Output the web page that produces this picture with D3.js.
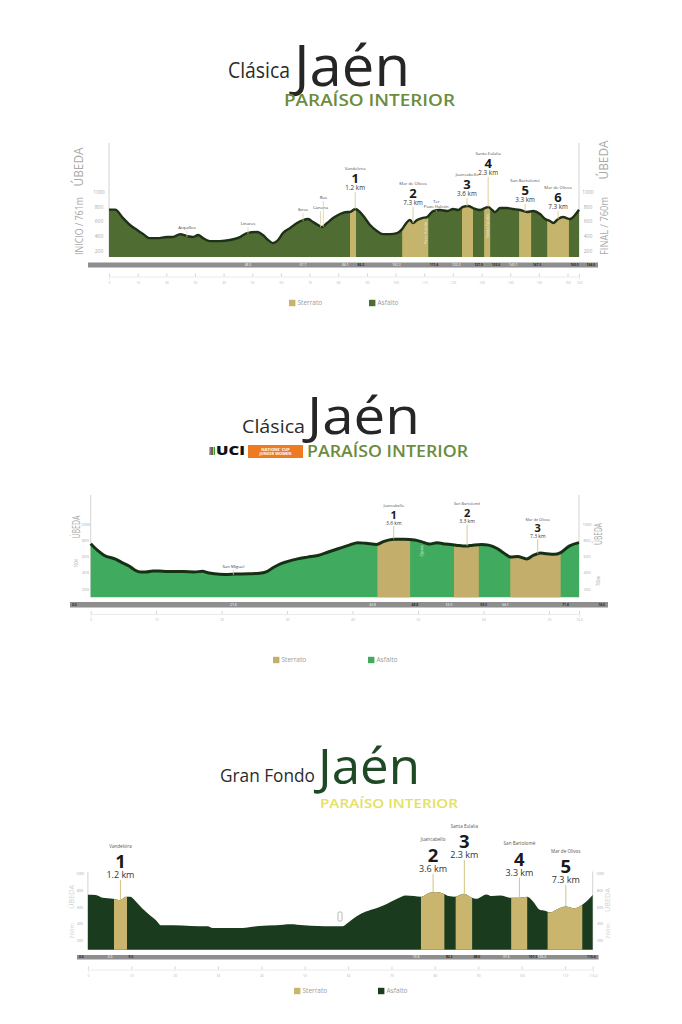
<!DOCTYPE html>
<html>
<head>
<meta charset="utf-8">
<script src="https://cdn.jsdelivr.net/npm/d3@7"></script>
<style>
  body { margin: 0; background: #fff; }
  svg { display: block; }
  text { font-family: "Open Sans", sans-serif; }
</style>
</head>
<body>
<script>
// ---- Clásica Jaén (élite) : [km, altitud m]
const profileClasica = [[0,761],[2.1,761],[4.9,647],[7.3,553],[9.8,485],[11.9,430],[14,376],[16.8,376],[20.2,390],[22.3,390],[24.8,430],[27.2,403],[29.3,390],[31.1,417],[32.8,376],[35.2,335],[38.7,335],[42.2,350],[45.7,390],[48.2,444],[51.7,458],[53.7,417],[55.5,350],[57.2,308],[59,350],[60.7,444],[63.2,512],[65.6,580],[67.7,620],[69.5,634],[71.2,593],[72.9,553],[74.3,525],[76.1,580],[78.2,647],[80.6,702],[83.1,729],[84.1,729],[85.9,770],[87.6,729],[89.3,647],[91.1,553],[93.5,471],[95.6,430],[98.1,430],[100.5,444],[102.3,498],[104,593],[105,620],[106.1,580],[107.5,620],[109.2,647],[111,661],[112,702],[113.1,742],[115.5,756],[118,742],[120.1,770],[121.8,756],[123.5,797],[125.3,810],[127,783],[129.5,756],[131.2,783],[132.3,797],[133.7,756],[134.7,729],[136.5,783],[138.9,783],[141,770],[143.4,756],[145.9,729],[148,742],[150.4,702],[152.2,634],[153.9,607],[155,580],[156.7,634],[158.4,661],[160.9,634],[162.6,688],[164,760]];
const sectorsClasica = [
  {num: "1", from: 84.1, to: 86.2, at: 85.9, len: "1.2 km", name: "Vandelvira"},
  {num: "2", from: 102.3, to: 111.4, at: 106.1, len: "7.3 km", name: "Mar de Olivos"},
  {num: "3", from: 123.2, to: 127.0, at: 124.9, len: "3.6 km", name: "Juancabello"},
  {num: "4", from: 130.9, to: 133.0, at: 132.3, len: "2.3 km", name: "Santa Eulalia"},
  {num: "5", from: 143.1, to: 147.3, at: 145.2, len: "3.3 km", name: "San Bartolomé"},
  {num: "6", from: 152.9, to: 160.5, at: 156.7, len: "7.3 km", name: "Mar de Olivos"}
];
const placesClasica = [
  {name: "Arquillos", km: 27.2}, {name: "Linares", km: 48.5}, {name: "Ibros", km: 67.7},
  {name: "Canena", km: 73.8}, {name: "Rus", km: 74.8}, {name: "Ter\nPozo Halcón", km: 114.2}
];
const ticksClasica = [0,10,20,30,40,50,60,70,80,90,100,110,120,130,140,150,160,164];

// ---- Clásica Jaén UCI Nations' Cup Junior Women
const profileJunior = [[0,762],[1.05,680],[2.1,617],[3.7,574],[4.7,532],[5.8,489],[6.8,434],[7.6,413],[8.4,413],[9.5,426],[11,421],[12.6,417],[14.2,417],[15.8,413],[17.1,421],[17.9,404],[18.9,391],[20.5,383],[22.1,387],[24.2,391],[25.8,396],[26.8,413],[27.9,468],[28.9,510],[30,540],[31.6,574],[33.1,596],[34.7,617],[36.3,659],[37.9,702],[39.5,744],[40.8,774],[42.1,766],[43.7,753],[44.7,787],[46.3,817],[47.9,817],[49.5,808],[50.5,787],[51.8,757],[52.9,774],[54.2,757],[55.8,744],[57.3,732],[58.4,744],[59.7,753],[60.8,744],[62.1,702],[63.1,647],[64.2,596],[65.2,604],[66.6,574],[67.6,617],[68.7,647],[69.7,638],[70.8,630],[71.8,651],[73.1,732],[74.6,775]];
const sectorsJunior = [
  {num: "1", from: 43.8, to: 48.8, at: 46.3, len: "3.6 km", name: "Juancabello"},
  {num: "2", from: 55.5, to: 59.3, at: 57.5, len: "3.3 km", name: "San Bartolomé"},
  {num: "3", from: 64.1, to: 71.8, at: 68.3, len: "7.3 km", name: "Mar de Olivos"}
];
const placesJunior = [{name: "San Miguel", km: 21.8}];
const ticksJunior = [0,10,20,30,40,50,60,70,74.6];

// ---- Gran Fondo Jaén
const profileFondo = [[0,748],[1.8,744],[3.4,712],[5.8,700],[7.4,683],[8.8,724],[9.8,724],[11,671],[12.5,590],[14.5,497],[15.7,448],[16.9,388],[19.7,388],[23.7,380],[27.6,376],[28.8,355],[31.6,355],[35.6,355],[39.5,380],[43.5,388],[46.7,400],[49.8,388],[53,380],[56.2,376],[58.6,376],[60.2,428],[61.8,489],[64.1,550],[66.5,590],[68.9,639],[71.3,700],[73.3,740],[75.2,732],[76.8,724],[78.8,773],[80.4,781],[82,760],[83.2,732],[84.6,724],[86.7,760],[88.6,712],[89.5,700],[91.9,752],[93.1,732],[95.1,740],[97.5,712],[99.4,712],[101.3,724],[102.6,671],[104.2,570],[105.4,558],[106.6,538],[108.2,578],[110.2,610],[112.1,590],[114,631],[116.4,745]];
const sectorsFondo = [
  {num: "1", from: 6.0, to: 9.0, at: 7.5, len: "1.2 km", name: "Vandelvira"},
  {num: "2", from: 76.8, to: 82.2, at: 79.6, len: "3.6 km", name: "Juancabello"},
  {num: "3", from: 84.8, to: 88.6, at: 86.8, len: "2.3 km", name: "Santa Eulalia"},
  {num: "4", from: 97.6, to: 101.3, at: 99.5, len: "3.3 km", name: "San Bartolomé"},
  {num: "5", from: 106.0, to: 114.0, at: 110.2, len: "7.3 km", name: "Mar de Olivos"}
];
const ticksFondo = [0,10,20,30,40,50,60,70,80,90,100,110,116.4];

const altTicks = [200, 400, 600, 800, 1000];
const legendLabels = ["Sterrato", "Asfalto"];

const svg = d3.select("body").append("svg").attr("width", 682).attr("height", 1024);
const fmt = d3.format(".1f");

function elevAt(profile, km) {
  const i = d3.bisector(d => d[0]).left(profile, km);
  if (i <= 0) return profile[0][1];
  if (i >= profile.length) return profile[profile.length - 1][1];
  const a = profile[i - 1], b = profile[i];
  return a[1] + (b[1] - a[1]) * (km - a[0]) / (b[0] - a[0]);
}

function drawProfile(c) {
  const g = svg.append("g");
  const total = c.profile[c.profile.length - 1][0];
  const x = d3.scaleLinear().domain([0, total]).range([c.x0, c.x1]);
  const y = d3.scaleLinear().domain([c.floor, 1000]).range([c.base, c.y1000]);

  const area = d3.area().x(d => x(d[0])).y0(c.base).y1(d => y(d[1])).curve(d3.curveMonotoneX);

  // side axis lines
  [c.x0, c.x1].forEach(xx => g.append("line")
    .attr("x1", xx).attr("x2", xx).attr("y1", c.axisTop).attr("y2", c.base)
    .attr("stroke", "#c8c8c8").attr("stroke-width", 0.8));

  g.append("path").datum(c.profile).attr("d", area).attr("fill", c.fill);

  // sterrato sectors
  c.sectors.forEach((s, i) => {
    const id = c.id + "-s" + i;
    g.append("clipPath").attr("id", id).append("rect")
      .attr("x", x(s.from)).attr("width", x(s.to) - x(s.from))
      .attr("y", 0).attr("height", 1024);
    g.append("path").datum(c.profile).attr("d", area)
      .attr("fill", c.dirt).attr("clip-path", `url(#${id})`);
  });

  if (c.stroke) {
    g.append("path").datum(c.profile).attr("d", area.lineY1())
      .attr("fill", "none").attr("stroke", c.stroke).attr("stroke-width", c.strokeW)
      .attr("stroke-linejoin", "round");
  }

  // altitude labels
  [c.yLabL, c.yLabR].forEach(xx => {
    g.selectAll(null).data(altTicks).join("text")
      .attr("x", xx).attr("y", d => y(d)).attr("dy", "0.35em")
      .attr("text-anchor", "middle").attr("font-size", c.altSize).attr("fill", "#aaa")
      .text(d => d);
  });

  // sector labels
  c.sectors.forEach((s, i) => {
    const lx = x(s.at), top = c.labelTop[i], o = c.offs;
    g.append("line").attr("x1", lx).attr("x2", lx)
      .attr("y1", top + o[2]).attr("y2", y(elevAt(c.profile, s.at)))
      .attr("stroke", c.stem).attr("stroke-width", c.stemW);
    g.append("text").attr("x", lx).attr("y", top).attr("text-anchor", "middle")
      .attr("font-size", c.nameSize).attr("fill", "#555").text(s.name);
    g.append("text").attr("x", lx).attr("y", top + o[0]).attr("text-anchor", "middle")
      .attr("font-size", c.numSize).attr("font-weight", 700).attr("fill", "#1a1a1a")
      .attr("font-family", "Roboto, sans-serif").text(s.num);
    g.append("text").attr("x", lx).attr("y", top + o[1]).attr("text-anchor", "middle")
      .attr("font-size", c.kmSize).attr("fill", "#333").text(s.len);
  });

  // small place labels
  (c.places || []).forEach((p, i) => {
    const px = x(p.km), ly = c.placeY[i];
    g.append("line").attr("x1", px).attr("x2", px).attr("y1", ly + 2)
      .attr("y2", y(elevAt(c.profile, p.km)) + 1)
      .attr("stroke", "#d7d0a0").attr("stroke-width", 0.7);
    const lines = p.name.split("\n");
    g.append("text").attr("x", px).attr("y", ly - (lines.length - 1) * 5)
      .attr("text-anchor", "middle").attr("font-size", 4.3).attr("fill", "#444")
      .selectAll("tspan").data(lines).join("tspan")
      .attr("x", px).attr("dy", (d, j) => j ? 5 : 0).text(d => d);
  });

  // rotated notes inside the profile
  (c.notes || []).forEach(n => {
    g.append("text").attr("transform", `translate(${x(n.km)},${n.y}) rotate(-90)`)
      .attr("text-anchor", "middle").attr("font-size", 4).attr("fill", "#e8f0d8")
      .text(n.text);
  });

  // grey distance strip
  g.append("rect").attr("x", c.bar[0]).attr("width", c.bar[1] - c.bar[0])
    .attr("y", c.bar[2]).attr("height", c.bar[3]).attr("fill", "#8e8e8e");
  const marks = [];
  if (c.barStart) marks.push({x: c.bar[0] + 2, t: "0.0", light: false, anchor: "start"});
  let lastEnd = -Infinity;
  c.sectors.forEach(s => {
    if (x(s.from) - lastEnd > 20) marks.push({x: x(s.from) - 1.5, t: fmt(s.from), light: true, anchor: "end"});
    if (c.bar[1] - x(s.to) > 22) marks.push({x: x(s.to) + 1.5, t: fmt(s.to), light: false, anchor: "start"});
    lastEnd = x(s.to);
  });
  (c.barPlaces || []).forEach(k => marks.push({x: x(c.places[k].km), t: fmt(c.places[k].km), light: true, anchor: "middle"}));
  marks.push({x: c.bar[1] - 3, t: fmt(total), light: false, anchor: "end"});
  g.selectAll(null).data(marks).join("text")
    .attr("x", d => d.x).attr("y", c.bar[2] + c.bar[3] / 2).attr("dy", "0.35em")
    .attr("text-anchor", d => d.anchor).attr("font-size", 3.3).attr("font-weight", 700)
    .attr("fill", d => d.light ? "#d8d8d8" : "#2a2a2a").text(d => d.t);

  // km axis
  const axis = g.append("g").attr("transform", `translate(0,${c.tickY})`)
    .call(d3.axisBottom(x).tickValues(c.ticks).tickSize(3).tickPadding(2)
      .tickFormat(d => Number.isInteger(d) ? d : fmt(d)));
  axis.select(".domain").attr("stroke", "#ddd").attr("stroke-width", 0.6);
  axis.selectAll(".tick line").attr("stroke", "#bbb").attr("stroke-width", 0.6)
    .attr("transform", "translate(0,-3)");
  axis.selectAll(".tick text").attr("font-size", 3.4).attr("fill", "#bbb")
    .attr("font-family", "Open Sans, sans-serif");

  // side captions
  c.side.forEach(sd => {
    g.append("text").attr("transform", `translate(${sd.x},${sd.y}) rotate(-90)`)
      .attr("text-anchor", "middle").attr("dy", "0.35em")
      .attr("font-size", sd.size).attr("fill", sd.color || "#a9a9a9")
      .attr("textLength", sd.len).attr("lengthAdjust", "spacingAndGlyphs")
      .text(sd.t);
  });

  // legend
  const colors = [c.dirt, c.fill];
  legendLabels.forEach((t, i) => {
    g.append("rect").attr("x", c.legendX[i]).attr("y", c.legendY - 3.2)
      .attr("width", 6.4).attr("height", 6.4).attr("fill", colors[i]);
    g.append("text").attr("x", c.legendX[i] + 8.5).attr("y", c.legendY).attr("dy", "0.35em")
      .attr("font-size", 6.5).attr("fill", "#9a9a9a").text(t);
  });
}

// title block: prefix, "Jaén", subtitle
function title(o) {
  const g = svg.append("g");
  const put = (t, a) => g.append("text").attr("x", a[0]).attr("y", a[1]).attr("font-size", a[2])
    .attr("textLength", a[3]).attr("lengthAdjust", "spacingAndGlyphs").text(t);
  put(o.preText, o.pre).attr("fill", "#2b2b2b");
  put("Jaén", o.jaen).attr("fill", o.jaenColor).attr("font-family", "Lato, sans-serif");
  put("PARAÍSO INTERIOR", o.sub).attr("fill", o.subColor).attr("font-weight", 600);
  return g;
}

// ---------- chart 1
title({preText: "Clásica", pre: [228, 78.3, 21, 62], jaen: [294, 85.5, 56, 116], jaenColor: "#262626",
  sub: [284, 106, 16.5, 171], subColor: "#6b8c3d"});
drawProfile({
  id: "c1", profile: profileClasica, sectors: sectorsClasica, places: placesClasica, ticks: ticksClasica,
  x0: 109, x1: 579, base: 257, y1000: 192, floor: 120, axisTop: 143,
  fill: "#4f6c32", stroke: "#1e3117", strokeW: 2.4, dirt: "#c4b46c", stem: "#d8cc8c", stemW: 0.9,
  yLabL: 99, yLabR: 588, altSize: 5,
  labelTop: [169.5, 184.5, 175.5, 154.5, 181.5, 188.5], offs: [13.5, 20.5, 22.5],
  nameSize: 4.3, numSize: 13, kmSize: 6.3,
  placeY: [228.5, 225, 211, 209, 199, 208],
  notes: [{km: 110.9, y: 233, text: "Pozo Halcón"}, {km: 132.6, y: 226, text: "Santa Eulalia"}],
  bar: [88, 598, 262.5, 5], tickY: 276.5, barPlaces: [1, 2],
  side: [{x: 79, y: 167, t: "ÚBEDA", size: 12, len: 39}, {x: 79, y: 226, t: "INICIO  /  761m", size: 11, len: 58},
         {x: 604, y: 160, t: "ÚBEDA", size: 12, len: 39}, {x: 604, y: 226, t: "FINAL  /  760m", size: 11, len: 58}],
  legendX: [289, 369], legendY: 303
});

// ---------- chart 2
const t2 = title({preText: "Clásica", pre: [242, 433, 19, 63], jaen: [307, 433.5, 52, 113], jaenColor: "#262626",
  sub: [307, 457, 16.5, 161], subColor: "#6b8c3d"});
// UCI Nations' Cup badge
["#0a6fb7", "#e2241f", "#1a1a1a", "#f6d21a", "#2aa03b"].forEach((col, i) => {
  t2.append("rect").attr("x", 209.5 + i * 1.1).attr("y", 447).attr("width", 1.1).attr("height", 8).attr("fill", col);
});
t2.append("text").attr("x", 216).attr("y", 455.3).attr("font-size", 11.5).attr("font-weight", 800)
  .attr("fill", "#111").attr("textLength", 29).attr("lengthAdjust", "spacingAndGlyphs").text("UCI");
t2.append("rect").attr("x", 248).attr("y", 445).attr("width", 55).attr("height", 13).attr("fill", "#ee7a22");
t2.append("text").attr("x", 275.5).attr("y", 450.6).attr("text-anchor", "middle").attr("font-size", 4)
  .attr("font-weight", 700).attr("fill", "#fff").text("NATIONS' CUP");
t2.append("text").attr("x", 275.5).attr("y", 455.4).attr("text-anchor", "middle").attr("font-size", 4)
  .attr("font-weight", 700).attr("fill", "#fff").text("JUNIOR WOMEN");
drawProfile({
  id: "c2", profile: profileJunior, sectors: sectorsJunior, places: placesJunior, ticks: ticksJunior,
  x0: 90.7, x1: 579, base: 597.3, y1000: 524.4, floor: 100, axisTop: 495,
  fill: "#40ab5e", stroke: "#163016", strokeW: 3, dirt: "#c3ae6c", stem: "#c8bb80", stemW: 0.8,
  yLabL: 85.5, yLabR: 587, altSize: 4,
  labelTop: [507, 505.3, 520.5], offs: [11.5, 17.5, 19],
  nameSize: 3.8, numSize: 11, kmSize: 5,
  placeY: [567.5],
  notes: [{km: 50.7, y: 551, text: "Ojeda"}],
  bar: [70, 608, 602, 5.5], tickY: 614, barStart: true, barPlaces: [0],
  side: [{x: 76, y: 527, t: "ÚBEDA", size: 10, len: 23}, {x: 76, y: 563, t: "760m", size: 5, len: 9},
         {x: 598, y: 534, t: "ÚBEDA", size: 10, len: 22}, {x: 598, y: 581, t: "760m", size: 5, len: 10}],
  legendX: [273, 368], legendY: 660
});

// ---------- chart 3
title({preText: "Gran Fondo", pre: [220, 781.7, 19, 95], jaen: [318, 783.5, 50, 102], jaenColor: "#1f4824",
  sub: [320, 807.5, 13, 138], subColor: "#e5e15e"});
drawProfile({
  id: "c3", profile: profileFondo, sectors: sectorsFondo, places: [], ticks: ticksFondo,
  x0: 87.9, x1: 592.7, base: 949.7, y1000: 873.4, floor: 100, axisTop: 871.6,
  fill: "#1a3b1d", stroke: null, dirt: "#c9b56d", stem: "#d4c383", stemW: 1,
  yLabL: 80, yLabR: 600, altSize: 3.5,
  labelTop: [847.5, 841.3, 827.6, 845.1, 852.7], offs: [20.5, 30.5, 32.5],
  nameSize: 4.6, numSize: 18.5, kmSize: 9,
  placeY: [],
  bar: [77, 598.6, 955, 4.5], tickY: 969.5, barStart: true,
  side: [{x: 72, y: 897, t: "ÚBEDA", size: 7, len: 24, color: "#cfcfcf"}, {x: 72, y: 931, t: "760m", size: 6, len: 16, color: "#cfcfcf"},
         {x: 608, y: 900, t: "ÚBEDA", size: 7, len: 24, color: "#cfcfcf"}, {x: 608, y: 931, t: "760m", size: 6, len: 16, color: "#cfcfcf"}],
  legendX: [294, 378], legendY: 991
});
// feed zone marker on the Gran Fondo profile
svg.append("rect").attr("x", 338).attr("y", 912).attr("width", 4).attr("height", 9).attr("rx", 1.2)
  .attr("fill", "#fff").attr("stroke", "#888").attr("stroke-width", 0.6);
</script>
</body>
</html>
